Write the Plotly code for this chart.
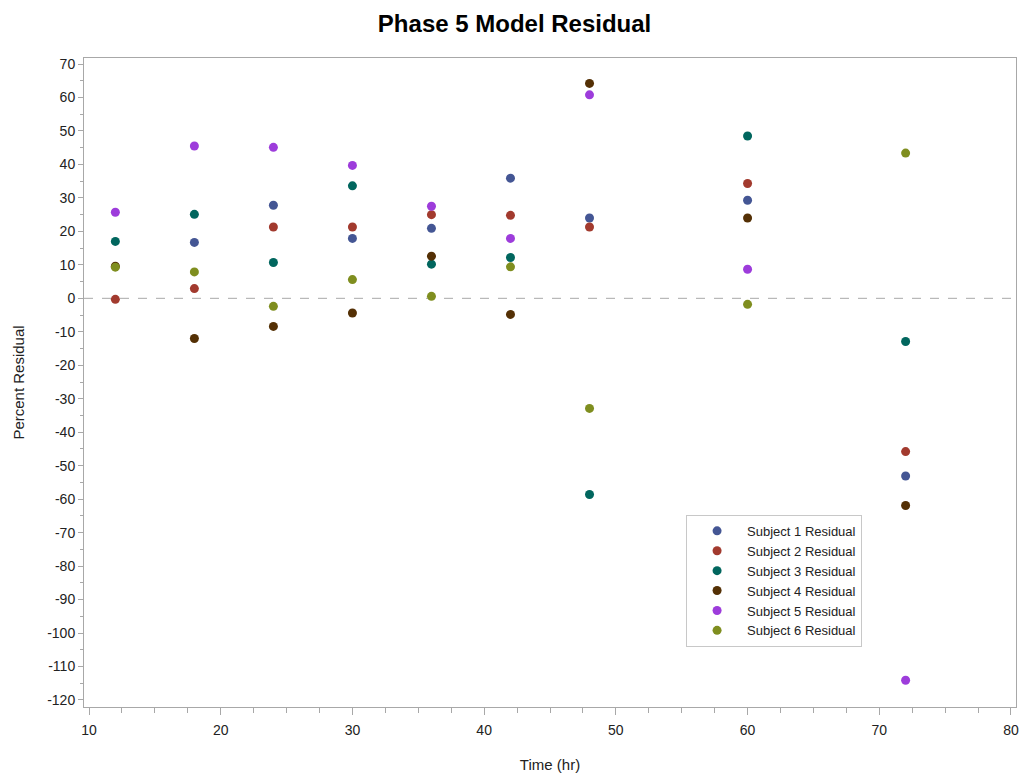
import plotly.graph_objects as go

time_hr = [12, 18, 24, 30, 36, 42, 48, 60, 72]

subject_names = ["Subject 1 Residual", "Subject 2 Residual", "Subject 3 Residual",
                 "Subject 4 Residual", "Subject 5 Residual", "Subject 6 Residual"]

s1 = [None, 16.7, 27.8, 17.9, 20.9, 35.9, 24.0, 29.3, -53.1]
s2 = [-0.3, 2.9, 21.3, 21.3, 25.0, 24.8, 21.3, 34.3, -45.8]
s3 = [17.0, 25.1, 10.7, 33.6, 10.2, 12.2, -58.6, 48.5, -12.9]
s4 = [9.6, -12.0, -8.4, -4.4, 12.6, -4.8, 64.2, 24.0, -61.9]
s5 = [25.7, 45.5, 45.1, 39.7, 27.5, 17.9, 60.8, 8.7, -114.1]
s6 = [9.3, 7.9, -2.4, 5.6, 0.6, 9.4, -32.9, -1.8, 43.4]

series = [s1, s2, s3, s4, s5, s6]
colors = ["#445694", "#A23A2E", "#01665E", "#543005", "#9D3CDB", "#7F8E1F"]

y_ticks = list(range(-120, 71, 10))
x_ticks = list(range(10, 81, 10))

FONT = "Liberation Sans, Arial, sans-serif"
TXT = "#222222"
AXC = "#A8A8A8"

fig = go.Figure()
for name, vals, col in zip(subject_names, series, colors):
    fig.add_trace(go.Scatter(
        x=time_hr, y=vals, mode="markers", name=name,
        marker=dict(symbol="circle", size=9, color=col, line=dict(width=0)),
    ))

fig.add_shape(type="line", xref="paper", x0=0, x1=1, yref="y", y0=0, y1=0,
              line=dict(color=AXC, width=1, dash="dash"), layer="below")

fig.update_layout(
    width=1021, height=773,
    paper_bgcolor="white", plot_bgcolor="white",
    margin=dict(l=84, r=5, t=58, b=66),
    font=dict(family=FONT, size=12, color=TXT),
    title=dict(text="<b>Phase 5 Model Residual</b>", x=0.504, xanchor="center",
               y=0.969, yanchor="middle",
               font=dict(family=FONT, size=24, color="black")),
    showlegend=True,
    legend=dict(x=0.646, y=0.296, xanchor="left", yanchor="top",
                bordercolor="#C8C8C8", borderwidth=1, bgcolor="white",
                font=dict(family=FONT, size=13, color=TXT),
                tracegroupgap=0, itemwidth=50),
)

fig.update_xaxes(
    range=[9.62, 80.38], tickvals=x_ticks, ticktext=[str(v) for v in x_ticks],
    automargin=False,
    showgrid=False, zeroline=False,
    showline=True, mirror=True, linecolor=AXC, linewidth=1,
    ticks="outside", ticklen=7, tickcolor=AXC, ticklabelstandoff=3,
    minor=dict(ticks="outside", dtick=2.5, ticklen=5, tickcolor=AXC, showgrid=False),
    tickfont=dict(family=FONT, size=14, color=TXT),
    title=dict(text="Time (hr)", font=dict(family=FONT, size=15, color=TXT), standoff=22),
)
fig.update_yaxes(
    range=[-122.1, 71.8], tickvals=y_ticks, ticktext=[str(v) for v in y_ticks],
    automargin=False,
    showgrid=False, zeroline=False,
    showline=True, mirror=True, linecolor=AXC, linewidth=1,
    ticks="outside", ticklen=5, tickcolor=AXC,
    minor=dict(ticks="outside", dtick=5, ticklen=3, tickcolor=AXC, showgrid=False),
    tickfont=dict(family=FONT, size=14, color=TXT),
    title=dict(text="Percent Residual", font=dict(family=FONT, size=15, color=TXT), standoff=18),
)

fig.write_html("out.html")
